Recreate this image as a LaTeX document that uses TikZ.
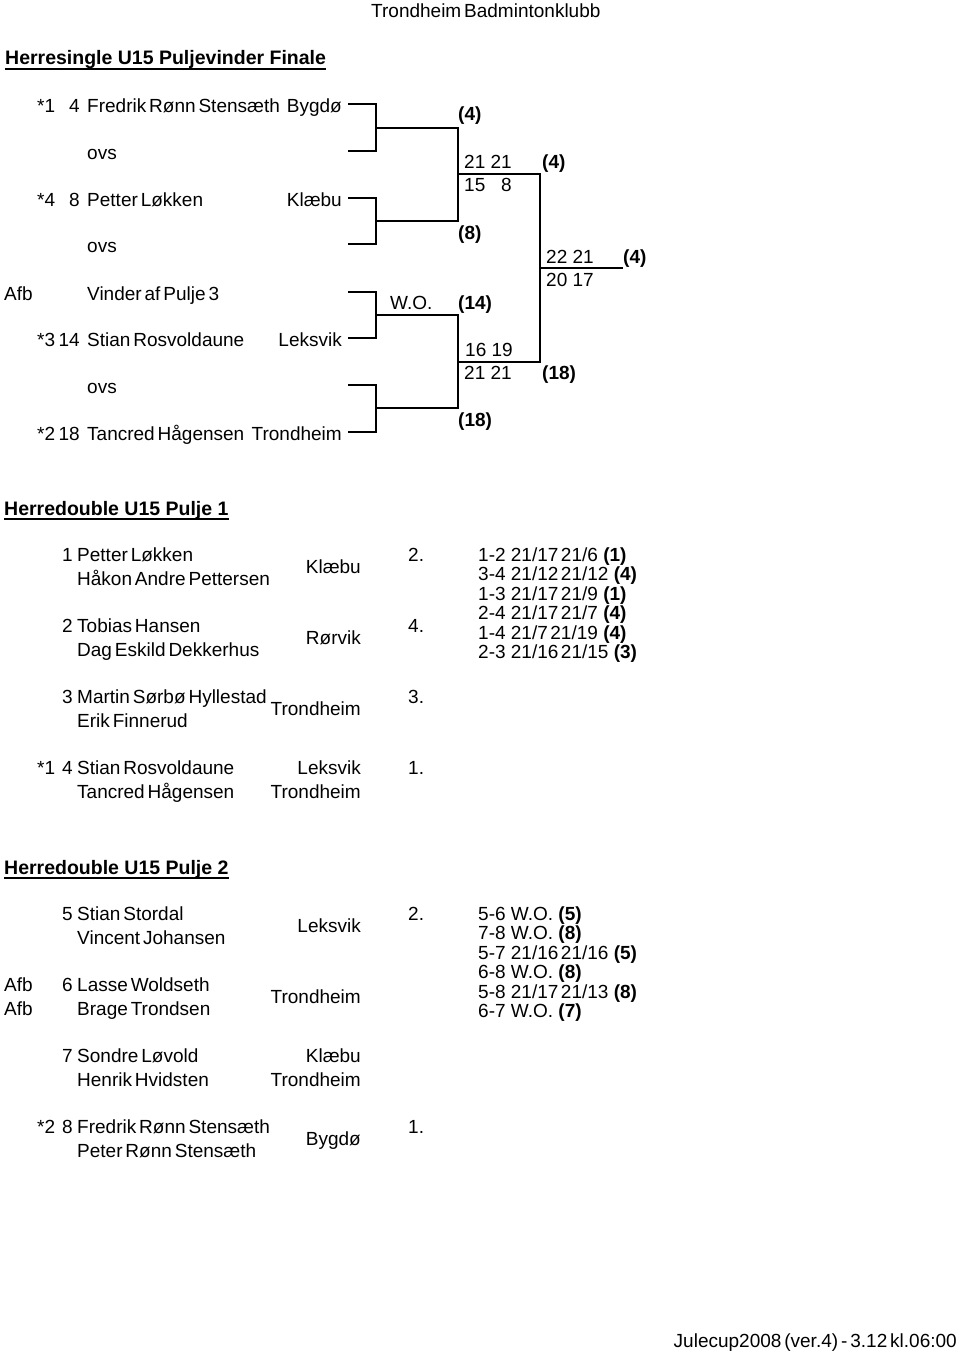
\documentclass[tikz,border=0pt]{standalone}
\usepackage{fontspec}
\setmainfont{Liberation Sans}[WordSpace=0.55]
\newfontfamily\headfont{Liberation Sans}
\usepackage{tikz}

\begin{document}
\begin{tikzpicture}[x=1pt,y=-1pt,font=\fontsize{19}{23}\selectfont,
  txt/.style={anchor=base west,inner sep=0pt},
  rtxt/.style={anchor=base east,inner sep=0pt},
  score/.style={txt,font=\fontsize{19}{23}\headfont},
  seed/.style={txt,font=\fontsize{19}{23}\selectfont\bfseries},
  head/.style={txt,font=\fontsize{19.5}{23}\headfont\bfseries},
  bracket/.style={line width=1.8pt},
  uline/.style={line width=1.6pt}]

  \useasboundingbox (0,0) rectangle (960,1354);

  \node[txt] (club) at (371,18) {Trondheim Badmintonklubb};

  % Herresingle
  \node[head] (h1) at (5,65) {Herresingle U15 Puljevinder Finale};
  \draw[uline] ([yshift=-4pt]h1.base west) -- ([yshift=-4pt]h1.base east);

  \node[txt] (st1) at (37,112) {*1};
  \node[rtxt] (nr1) at (80,112) {4};
  \node[txt] (pl1) at (87,112) {Fredrik Rønn Stensæth};
  \node[rtxt] (cl1) at (342,112) {Bygdø};
  \node[txt] (pl2) at (87,159) {ovs};
  \node[txt] (st3) at (37,206) {*4};
  \node[rtxt] (nr3) at (80,206) {8};
  \node[txt] (pl3) at (87,206) {Petter Løkken};
  \node[rtxt] (cl3) at (342,206) {Klæbu};
  \node[txt] (pl4) at (87,252) {ovs};
  \node[txt] (afb5) at (4,300) {Afb};
  \node[txt] (pl5) at (87,300) {Vinder af Pulje 3};
  \node[txt] (st6) at (37,346) {*3};
  \node[rtxt] (nr6) at (80,346) {14};
  \node[txt] (pl6) at (87,346) {Stian Rosvoldaune};
  \node[rtxt] (cl6) at (342,346) {Leksvik};
  \node[txt] (pl7) at (87,393) {ovs};
  \node[txt] (st8) at (37,440) {*2};
  \node[rtxt] (nr8) at (80,440) {18};
  \node[txt] (pl8) at (87,440) {Tancred Hågensen};
  \node[rtxt] (cl8) at (342,440) {Trondheim};

  \foreach \i/\y in {1/104,2/151,3/198,4/244,5/292,6/338,7/385,8/432}
    \coordinate (p\i) at (348,\y);
  \coordinate (q1) at (376,128);
  \coordinate (q2) at (376,221);
  \coordinate (q3) at (376,315);
  \coordinate (q4) at (376,408);
  \coordinate (r1) at (458,174);
  \coordinate (r2) at (458,362);
  \coordinate (w) at (540,268);
  \coordinate (c) at (623,268);

  \draw[bracket] (p1) -| (q1) |- (p2);
  \draw[bracket] (p3) -| (q2) |- (p4);
  \draw[bracket] (p5) -| (q3) |- (p6);
  \draw[bracket] (p7) -| (q4) |- (p8);
  \draw[bracket] (q1) -| (r1) |- (q2);
  \draw[bracket] (q3) -| (r2) |- (q4);
  \draw[bracket] (r1) -| (w) |- (r2);
  \draw[bracket] (w) -- (c);

  \node[seed] (s4a) at (458,120) {(4)};
  \node[score] (g1a) at (464,168) {21 21};
  \node[score] (g1b) at (464,191) {15 \hphantom{2}8};
  \node[seed] (s8) at (458,239) {(8)};
  \node[seed] (s4b) at (542,168) {(4)};
  \node[score] (g3a) at (546,263) {22 21};
  \node[score] (g3b) at (546,286) {20 17};
  \node[seed] (s4c) at (623,263) {(4)};
  \node[txt] (wo) at (390,309) {W.O.};
  \node[seed] (s14) at (458,309) {(14)};
  \node[score] (g2a) at (465,356) {16 19};
  \node[score] (g2b) at (464,379) {21 21};
  \node[seed] (s18a) at (542,379) {(18)};
  \node[seed] (s18b) at (458,426) {(18)};

  % Pulje 1
  \node[head] (h2) at (4,515) {Herredouble U15 Pulje 1};
  \draw[uline] ([yshift=-4pt]h2.base west) -- ([yshift=-4pt]h2.base east);

  \node[txt] (a1n) at (62,561) {1};
  \node[txt] (a1a) at (77,561) {Petter Løkken};
  \node[txt] (a1b) at (77,585) {Håkon Andre Pettersen};
  \node[rtxt] (a1c) at (361,573) {Klæbu};
  \node[txt] (a1p) at (408,561) {2.};
  \node[txt] (a2n) at (62,632) {2};
  \node[txt] (a2a) at (77,632) {Tobias Hansen};
  \node[txt] (a2b) at (77,656) {Dag Eskild Dekkerhus};
  \node[rtxt] (a2c) at (361,644) {Rørvik};
  \node[txt] (a2p) at (408,632) {4.};
  \node[txt] (a3n) at (62,703) {3};
  \node[txt] (a3a) at (77,703) {Martin Sørbø Hyllestad};
  \node[txt] (a3b) at (77,727) {Erik Finnerud};
  \node[rtxt] (a3c) at (361,715) {Trondheim};
  \node[txt] (a3p) at (408,703) {3.};
  \node[txt] (a4s) at (37,774) {*1};
  \node[txt] (a4n) at (62,774) {4};
  \node[txt] (a4a) at (77,774) {Stian Rosvoldaune};
  \node[txt] (a4b) at (77,798) {Tancred Hågensen};
  \node[rtxt] (a4c) at (361,774) {Leksvik};
  \node[rtxt] (a4d) at (361,798) {Trondheim};
  \node[txt] (a4p) at (408,774) {1.};

  \foreach \t [count=\k] in {1-2 21/17\kern2.5pt21/6 \textbf{(1)},3-4 21/12\kern2.5pt21/12 \textbf{(4)},
      1-3 21/17\kern2.5pt21/9 \textbf{(1)},2-4 21/17\kern2.5pt21/7 \textbf{(4)},
      1-4 21/7\kern2.5pt21/19 \textbf{(4)},2-3 21/16\kern2.5pt21/15 \textbf{(3)}}
    \node[score] (ka\k) at (478,{541.5+19.5*\k}) {\t};

  % Pulje 2
  \node[head] (h3) at (4,874) {Herredouble U15 Pulje 2};
  \draw[uline] ([yshift=-4pt]h3.base west) -- ([yshift=-4pt]h3.base east);

  \node[txt] (b5n) at (62,920) {5};
  \node[txt] (b5a) at (77,920) {Stian Stordal};
  \node[txt] (b5b) at (77,944) {Vincent Johansen};
  \node[rtxt] (b5c) at (361,932) {Leksvik};
  \node[txt] (b5p) at (408,920) {2.};
  \node[txt] (b6x) at (4,991) {Afb};
  \node[txt] (b6y) at (4,1015) {Afb};
  \node[txt] (b6n) at (62,991) {6};
  \node[txt] (b6a) at (77,991) {Lasse Woldseth};
  \node[txt] (b6b) at (77,1015) {Brage Trondsen};
  \node[rtxt] (b6c) at (361,1003) {Trondheim};
  \node[txt] (b7n) at (62,1062) {7};
  \node[txt] (b7a) at (77,1062) {Sondre Løvold};
  \node[txt] (b7b) at (77,1086) {Henrik Hvidsten};
  \node[rtxt] (b7c) at (361,1062) {Klæbu};
  \node[rtxt] (b7d) at (361,1086) {Trondheim};
  \node[txt] (b8s) at (37,1133) {*2};
  \node[txt] (b8n) at (62,1133) {8};
  \node[txt] (b8a) at (77,1133) {Fredrik Rønn Stensæth};
  \node[txt] (b8b) at (77,1157) {Peter Rønn Stensæth};
  \node[rtxt] (b8c) at (361,1145) {Bygdø};
  \node[txt] (b8p) at (408,1133) {1.};

  \foreach \t [count=\k] in {5-6 W.O. \textbf{(5)},7-8 W.O. \textbf{(8)},
      5-7 21/16\kern2.5pt21/16 \textbf{(5)},6-8 W.O. \textbf{(8)},
      5-8 21/17\kern2.5pt21/13 \textbf{(8)},6-7 W.O. \textbf{(7)}}
    \node[score] (kb\k) at (478,{900.5+19.5*\k}) {\t};

  \node[rtxt] (foot) at (957,1347) {Julecup2008 (ver.4) - 3.12 kl.06:00};
\end{tikzpicture}
\end{document}
